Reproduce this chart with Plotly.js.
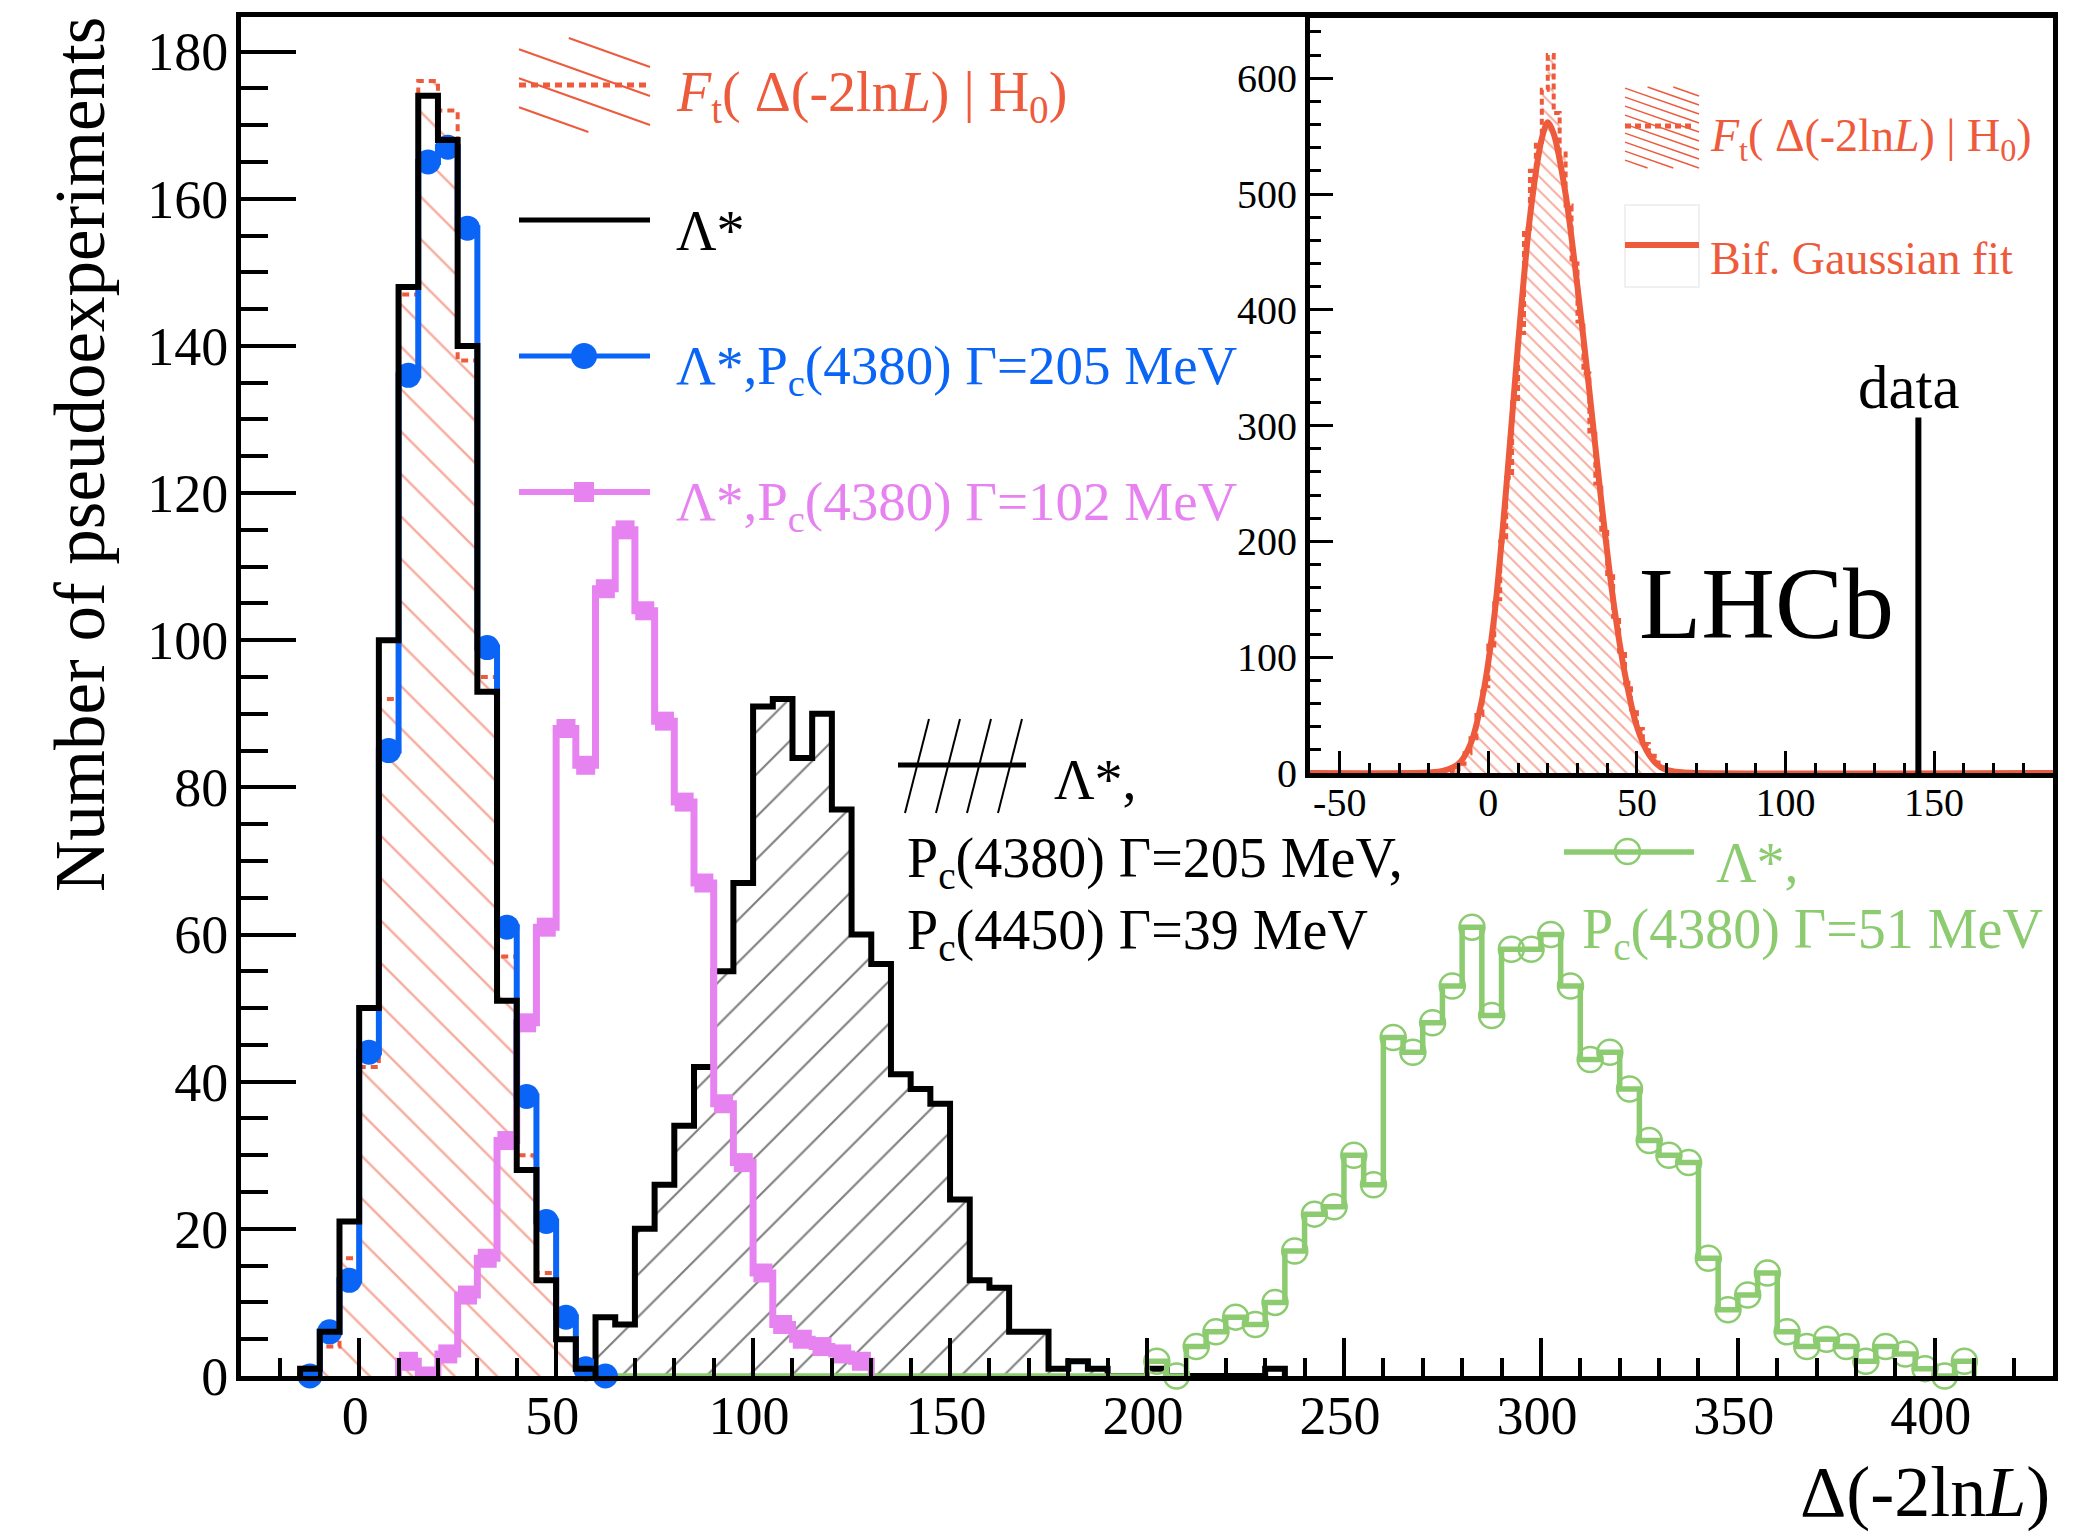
<!DOCTYPE html>
<html><head><meta charset="utf-8">
<script src="https://cdn.plot.ly/plotly-3.0.1.min.js"></script>
<style>html,body{margin:0;padding:0;background:#fff}</style>
</head><body>
<div id="chart" style="width:2091px;height:1539px"></div>
<script>
// ================= DATA =================
const binWidth = 5;
// F_t( Delta(-2lnL) | H0 ) main histogram (red, hatched)
const ftStart = -10;
const ftCounts = [4,16,42,92,147,176,172,138,95,57,30,14,5,1];
// Lambda* (black)
const lamStart = -15;
const lamCounts = [1,6,21,50,100,148,174,168,140,93,51,28,13,5,1];
// Lambda*, Pc(4380) G=205 MeV (blue, filled circles)
const pc205Start = -15;
const pc205Counts = [0,6,13,44,85,136,165,167,156,99,61,38,21,8,1,0];
// Lambda*, Pc(4380) G=102 MeV (violet, squares)
const pc102Start = 10;
const pc102Counts = [2,0,3,11,16,32,48,61,88,83,107,115,104,89,78,67,37,29,14,7,5,4,3,2];
// Lambda*, Pc(4380) G=205 MeV, Pc(4450) G=39 MeV (black, hatched)
const twoPcStart = 60;
const twoPcCounts = [8,7,20,26,34,42,55,67,91,92,84,90,77,60,56,41,39,37,24,13,12,6,6,1,2,1,0,0,1,0,0,0,0,0,1];
// Lambda*, Pc(4380) G=51 MeV (green, open circles)
const pc51Start = 60;
const pc51Counts = [0,0,0,0,0,0,0,0,0,0,0,0,0,0,0,0,0,0,0,0,0,0,0,0,0,0,0,0,
  2,0,4,6,8,7,10,17,22,23,30,26,46,44,48,53,61,49,58,58,60,53,43,44,39,32,30,29,16,9,11,14,6,4,5,4,2,4,3,1,0,2];
const pc51MarkerFrom = 200;

// axis tick labels
const mainXTicks = [0,50,100,150,200,250,300,350,400];
const mainYTicks = [0,20,40,60,80,100,120,140,160,180];
const insetXTicks = [-50,0,50,100,150];
const insetXTickText = ['-50','0','50','100','150'];
const insetYTicks = [0,100,200,300,400,500,600];

// Inset: F_t histogram, bifurcated Gaussian fit, data value
const insetBinWidth = 2;
const insetStart = -12;
const insetCounts = [3,8,17,30,50,75,110,150,200,255,320,380,470,520,545,590,620,570,535,490,440,390,345,295,250,210,170,135,105,78,55,38,25,15,9,5,2];
const insetRange = [-60, 190];
const fitX = [-60,-20,-15,-10,-6,-2,2,6,10,14,18,20,22,26,30,34,38,42,46,50,54,58,62,68,190];
const fitY = [0,0.5,2,8,25,65,135,245,370,480,548,562,552,500,420,330,235,150,85,40,16,5,1.5,0.2,0];
const dataValue = 144.7;
const dataLineTop = 307;

// ================= STYLE =================
const RED = '#ee5a3c', BLUE = '#0a64f5', VIOLET = '#e783f0', GREEN = '#8ccb70', BLACK = '#000000';
const SERIF = '"Liberation Serif", "Times New Roman", Times, serif';

// pixel frame of the main plot area
const L = 241, R = 2053, T = 17, B = 1376;
const W = R - L, H = B - T;
const fx = p => (p - L) / W;
const fy = p => (B - p) / H;

function stepXY(start, w, counts, lo, hi) {
  const n = counts.length, end = start + n * w;
  const x = [lo === undefined ? start : lo], y = [0];
  for (let i = 0; i < n; i++) { x.push(start + i * w); y.push(counts[i]); }
  x.push(end); y.push(0);
  if (hi !== undefined && hi > end) { x.push(hi); y.push(0); }
  return {x, y};
}
function centers(start, w, counts) { return counts.map((c, i) => start + (i + 0.5) * w); }

const traces = [];
// red F_t hatched
const ft = stepXY(ftStart, binWidth, ftCounts);
traces.push({type:'scatter', x:ft.x, y:ft.y, mode:'lines', line:{shape:'hv', color:RED, width:4, dash:'7px,5px'},
  fill:'tozeroy', fillcolor:'rgba(255,255,255,0)',
  fillpattern:{shape:'\\', fgcolor:RED, size:30, solidity:0.08, fillmode:'overlay'},
  hoverinfo:'skip', showlegend:false});
// black hatched two-Pc
const tp = stepXY(twoPcStart, binWidth, twoPcCounts);
traces.push({type:'scatter', x:tp.x, y:tp.y, mode:'lines', line:{shape:'hv', color:BLACK, width:6},
  fill:'tozeroy', fillcolor:'rgba(255,255,255,0)',
  fillpattern:{shape:'/', fgcolor:BLACK, size:30, solidity:0.07, fillmode:'overlay'},
  hoverinfo:'skip', showlegend:false});
// green
const g = stepXY(pc51Start, binWidth, pc51Counts);
traces.push({type:'scatter', x:g.x, y:g.y, mode:'lines', line:{shape:'hv', color:GREEN, width:5.5}, hoverinfo:'skip', showlegend:false});
const gc = centers(pc51Start, binWidth, pc51Counts);
const gmx = [], gmy = [];
gc.forEach((c, i) => { if (c >= pc51MarkerFrom) { gmx.push(c); gmy.push(pc51Counts[i]); } });
traces.push({type:'scatter', x:gmx, y:gmy, mode:'markers', cliponaxis:false,
  marker:{symbol:'circle-open', size:25, color:GREEN, line:{width:2.5, color:GREEN}}, hoverinfo:'skip', showlegend:false});
// violet
const v = stepXY(pc102Start, binWidth, pc102Counts);
traces.push({type:'scatter', x:v.x, y:v.y, mode:'lines', line:{shape:'hv', color:VIOLET, width:7}, hoverinfo:'skip', showlegend:false});
traces.push({type:'scatter', x:centers(pc102Start, binWidth, pc102Counts), y:pc102Counts, mode:'markers',
  marker:{symbol:'square', size:19, color:VIOLET}, hoverinfo:'skip', showlegend:false});
// blue
const b = stepXY(pc205Start, binWidth, pc205Counts);
traces.push({type:'scatter', x:b.x, y:b.y, mode:'lines', line:{shape:'hv', color:BLUE, width:6}, hoverinfo:'skip', showlegend:false});
traces.push({type:'scatter', x:centers(pc205Start, binWidth, pc205Counts), y:pc205Counts, mode:'markers', cliponaxis:false,
  marker:{symbol:'circle', size:25, color:BLUE}, hoverinfo:'skip', showlegend:false});
// black Lambda*
const lm = stepXY(lamStart, binWidth, lamCounts);
traces.push({type:'scatter', x:lm.x, y:lm.y, mode:'lines', line:{shape:'hv', color:BLACK, width:6}, hoverinfo:'skip', showlegend:false});

// inset
const ih = stepXY(insetStart, insetBinWidth, insetCounts, insetRange[0], insetRange[1]);
traces.push({type:'scatter', x:ih.x, y:ih.y, xaxis:'x2', yaxis:'y2', mode:'lines',
  line:{shape:'hv', color:RED, width:4, dash:'6px,4px'},
  fill:'tozeroy', fillcolor:'rgba(255,255,255,0)',
  fillpattern:{shape:'\\', fgcolor:RED, size:10, solidity:0.2, fillmode:'overlay'},
  hoverinfo:'skip', showlegend:false});
traces.push({type:'scatter', x:fitX, y:fitY, xaxis:'x2', yaxis:'y2', mode:'lines',
  line:{shape:'spline', smoothing:0.8, color:RED, width:6}, hoverinfo:'skip', showlegend:false});
traces.push({type:'scatter', x:[dataValue, dataValue], y:[0, dataLineTop], xaxis:'x2', yaxis:'y2', mode:'lines',
  line:{color:BLACK, width:6}, hoverinfo:'skip', showlegend:false});

// ================= LEGEND DRAWING (shapes) =================
const shapes = [];
function pline(x0, y0, x1, y1, color, width, dash) {
  shapes.push({type:'line', xref:'paper', yref:'paper', x0:fx(x0), y0:fy(y0), x1:fx(x1), y1:fy(y1),
    line:{color, width, dash: dash || 'solid'}});
}
function hatchBox(x0, y0, x1, y1, slope, spacing, color, width) {
  for (let c = y0 - slope * (x1 - x0) - spacing * 3; c < y1 + spacing; c += spacing) {
    const yAt = x => c + slope * (x - x0);
    const xAt = y => x0 + (y - c) / slope;
    const xa = Math.max(x0, xAt(y0)), xb = Math.min(x1, xAt(y1));
    if (xb - xa > 2) pline(xa, yAt(xa), xb, yAt(xb), color, width);
  }
}
// main legend: F_t
hatchBox(519, 38, 650, 132, 0.357, 29, RED, 2);
pline(519, 85, 650, 85, RED, 5, '7px,5px');
// Lambda*
pline(519, 220, 650, 220, BLACK, 5);
// blue
pline(519, 356, 650, 356, BLUE, 5);
shapes.push({type:'circle', xref:'paper', yref:'paper', x0:fx(571), x1:fx(597), y0:fy(369), y1:fy(343), fillcolor:BLUE, line:{width:0}});
// violet
pline(519, 492, 650, 492, VIOLET, 6);
shapes.push({type:'rect', xref:'paper', yref:'paper', x0:fx(574), x1:fx(594), y0:fy(502), y1:fy(482), fillcolor:VIOLET, line:{width:0}});
// black hatched legend
for (let k = 0; k < 4; k++) pline(905 + 31 * k, 813, 929 + 31 * k, 719, BLACK, 2);
pline(898, 765, 1026, 765, BLACK, 5);
// green legend
pline(1564, 852, 1694, 852, GREEN, 5.5);
shapes.push({type:'circle', xref:'paper', yref:'paper', x0:fx(1615), x1:fx(1640), y0:fy(864), y1:fy(839), fillcolor:'rgba(255,255,255,0)', line:{color:GREEN, width:2.5}});
// inset legend
hatchBox(1625, 87, 1699, 168, 0.35, 9, RED, 1.5);
pline(1625, 126, 1692, 126, RED, 5, '6px,4px');
shapes.push({type:'rect', xref:'paper', yref:'paper', x0:fx(1625), x1:fx(1699), y0:fy(287), y1:fy(205), fillcolor:'rgba(255,255,255,0)', line:{color:'#ececec', width:1.5}});
pline(1625, 245, 1699, 245, RED, 6);

// ================= TEXT =================
const annotations = [];
function txt(text, x, y, size, color, xanchor, extra) {
  annotations.push(Object.assign({text, xref:'paper', yref:'paper', x:fx(x), y:fy(y), showarrow:false,
    xanchor: xanchor || 'left', yanchor:'middle', font:{family:SERIF, size, color}}, extra || {}));
}
const FTXT = '<i>F</i><sub>t</sub>( Δ(-2ln<i>L</i>) | H<sub>0</sub>)';
txt(FTXT, 674, 96, 56, RED);
txt('Λ*', 674, 231, 56, BLACK);
txt('Λ*,P<sub>c</sub>(4380) Γ=205 MeV', 674, 369, 55, BLUE);
txt('Λ*,P<sub>c</sub>(4380) Γ=102 MeV', 674, 505, 55, VIOLET);
txt('Λ*,', 1052, 780, 56, BLACK);
txt('P<sub>c</sub>(4380) Γ=205 MeV,', 905, 862, 56, BLACK);
txt('P<sub>c</sub>(4450) Γ=39 MeV', 905, 934, 56, BLACK);
txt('Λ*,', 1714, 863, 56, GREEN);
txt('P<sub>c</sub>(4380) Γ=51 MeV', 1580, 933, 56, GREEN);
txt(FTXT, 1708, 139, 46, RED);
txt('Bif. Gaussian fit', 1708, 258, 46, RED);
txt('data', 1909, 387, 61, BLACK, 'center');
txt('LHCb', 1766, 604, 102, BLACK, 'center');
// axis titles
txt('Δ(-2ln<i>L</i>)', 2052, 1492, 72, BLACK, 'right');
txt('Number of pseudoexperiments', 80, 455, 71, BLACK, 'center', {textangle:-90});

const axBase = {showgrid:false, zeroline:false, showline:true, linecolor:BLACK, mirror:true, ticks:'inside', tickcolor:BLACK};
const layout = {
  width:2091, height:1539,
  margin:{l:L, r:2091 - R, t:T, b:1539 - B, pad:0},
  paper_bgcolor:'#ffffff', plot_bgcolor:'#ffffff',
  showlegend:false,
  font:{family:SERIF, color:BLACK},
  xaxis: Object.assign({}, axBase, {domain:[0,1], anchor:'y', range:[-30,430], tickmode:'array', tickvals:mainXTicks,
    linewidth:5, ticklen:38, tickwidth:4, ticklabelstandoff:-12, ticklabelshift:-4, tickfont:{family:SERIF, size:54, color:BLACK},
    minor:{ticks:'inside', dtick:10, tick0:0, ticklen:18, tickwidth:4, tickcolor:BLACK, showgrid:false}}),
  yaxis: Object.assign({}, axBase, {domain:[0,1], anchor:'x', range:[0,184.7], tickmode:'array', tickvals:mainYTicks,
    linewidth:5, ticklen:55, tickwidth:4, ticklabelstandoff:-3, tickfont:{family:SERIF, size:54, color:BLACK},
    minor:{ticks:'inside', dtick:5, tick0:0, ticklen:27, tickwidth:4, tickcolor:BLACK, showgrid:false}}),
  xaxis2: Object.assign({}, axBase, {domain:[fx(1310), 1], anchor:'y2', range:insetRange, tickmode:'array', tickvals:insetXTicks, ticktext:insetXTickText,
    linewidth:5, ticklen:22, tickwidth:3, ticklabelstandoff:-10, tickfont:{family:SERIF, size:40, color:BLACK},
    minor:{ticks:'inside', dtick:10, tick0:0, ticklen:10, tickwidth:3, tickcolor:BLACK, showgrid:false}}),
  yaxis2: Object.assign({}, axBase, {domain:[fy(773), fy(18)], anchor:'x2', range:[0,652], tickmode:'array', tickvals:insetYTicks,
    linewidth:5, ticklen:23, tickwidth:3, ticklabelstandoff:0, tickfont:{family:SERIF, size:40, color:BLACK},
    minor:{ticks:'inside', dtick:20, tick0:0, ticklen:11, tickwidth:3, tickcolor:BLACK, showgrid:false}}),
  shapes, annotations
};
Plotly.newPlot('chart', traces, layout, {displayModeBar:false, staticPlot:true});
</script>
</body></html>
